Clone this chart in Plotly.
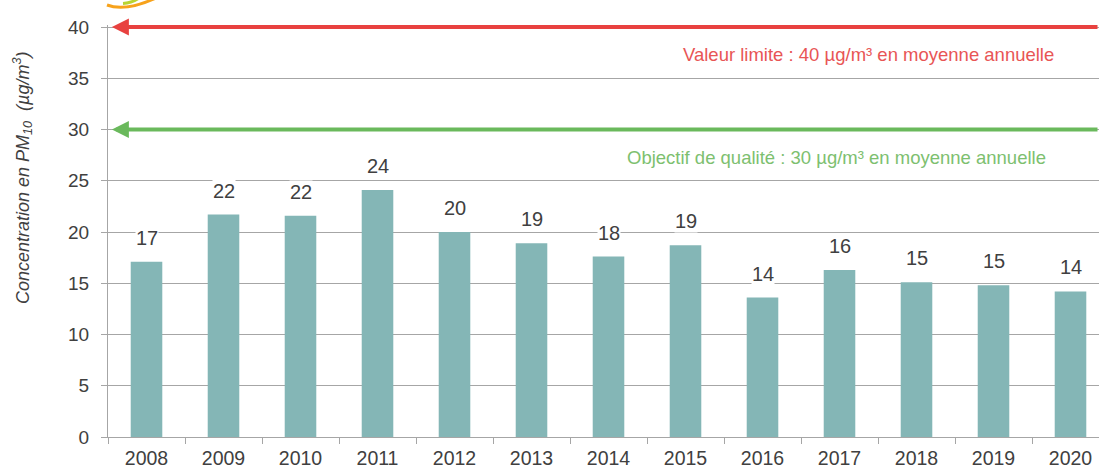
import plotly.graph_objects as go

years = ["2008", "2009", "2010", "2011", "2012", "2013", "2014",
         "2015", "2016", "2017", "2018", "2019", "2020"]
pm10 = [17.1, 21.7, 21.6, 24.1, 20.0, 18.9, 17.6, 18.7, 13.6, 16.3, 15.1, 14.8, 14.2]
labels = ["17", "22", "22", "24", "20", "19", "18", "19", "14", "16", "15", "15", "14"]
limit_value = 40
quality_goal = 30
yticks = [0, 5, 10, 15, 20, 25, 30, 35, 40]

FONT = "Liberation Sans, Arial, sans-serif"
W, H = 1099, 470
L, R, T, B = 108, 0, 25, 33
pw, ph = W - L - R, H - T - B

def px(x):
    return (x - L) / pw

def py(y):
    return (H - B - y) / ph

fig = go.Figure()
fig.add_trace(go.Bar(
    x=years, y=pm10, marker=dict(color="#84b6b6", line=dict(width=0)),
    hoverinfo="x+y", showlegend=False,
))

ann = []
for i, (v, lab) in enumerate(zip(pm10, labels)):
    ann.append(dict(x=i, y=v, xref="x", yref="y", text=lab, showarrow=False,
                    yshift=24, yanchor="middle", bgcolor="white", borderpad=0,
                    font=dict(family=FONT, size=20, color="#404040")))

# reference lines with arrowheads
ann.append(dict(x=-0.45, y=limit_value, xref="x", yref="y", ax=12.37, ay=limit_value,
                axref="x", ayref="y", text="", showarrow=True, arrowhead=2,
                arrowsize=0.85, arrowwidth=4, arrowcolor="#e8413f"))
ann.append(dict(x=-0.45, y=quality_goal, xref="x", yref="y", ax=12.37, ay=quality_goal,
                axref="x", ayref="y", text="", showarrow=True, arrowhead=2,
                arrowsize=0.85, arrowwidth=4, arrowcolor="#6ab95c"))
ann.append(dict(x=px(868), y=py(55), xref="paper", yref="paper", showarrow=False,
                xanchor="center", yanchor="middle",
                text="Valeur limite : 40 µg/m³ en moyenne annuelle",
                font=dict(family=FONT, size=18.5, color="#e85555")))
ann.append(dict(x=px(836), y=py(157), xref="paper", yref="paper", showarrow=False,
                xanchor="center", yanchor="middle",
                text="Objectif de qualité : 30 µg/m³ en moyenne annuelle",
                font=dict(family=FONT, size=18.5, color="#7dc06f")))
ann.append(dict(x=px(23), y=py(178), xref="paper", yref="paper", showarrow=False,
                xanchor="center", yanchor="middle", textangle=-90,
                text="<i>Concentration en PM<sub>10</sub>  (µg/m<sup>3</sup>)</i>",
                font=dict(family=FONT, size=18, color="#404040")))

shapes = [
    dict(type="path", xref="paper", yref="paper",
         path=f"M {px(107)} {py(5)} Q {px(125)} {py(12)} {px(156)} {py(-2)}",
         line=dict(color="#f7a21b", width=3)),
    dict(type="path", xref="paper", yref="paper",
         path=f"M {px(123)} {py(3.5)} Q {px(132)} {py(3)} {px(139)} {py(-2)}",
         line=dict(color="#b8d432", width=3)),
]

fig.update_layout(
    width=W, height=H,
    margin=dict(l=L, r=R, t=T, b=B, pad=0, autoexpand=False),
    paper_bgcolor="white", plot_bgcolor="white",
    bargap=0.59,
    annotations=ann, shapes=shapes,
    font=dict(family=FONT, size=18, color="#404040"),
    xaxis=dict(range=[-0.5, 12.37], showline=True, linecolor="#a6a6a6", linewidth=1,
               ticks="outside", tickson="boundaries", ticklen=6, tickcolor="#a6a6a6",
               ticklabelstandoff=4,
               tickfont=dict(family=FONT, size=19.5, color="#404040"), showgrid=False,
               automargin=False, fixedrange=True),
    yaxis=dict(range=[0, 40.2], tickvals=yticks, showline=True, linecolor="#a6a6a6",
               linewidth=1, ticks="outside", ticklen=6, tickcolor="#a6a6a6",
               gridcolor="#a6a6a6", gridwidth=1, zeroline=False, ticklabelstandoff=8,
               tickfont=dict(family=FONT, size=19, color="#404040"),
               automargin=False, fixedrange=True),
)

fig.write_html("out.html", config={"displayModeBar": False},
               post_script="document.body.style.margin='0';document.body.style.padding='0';")
